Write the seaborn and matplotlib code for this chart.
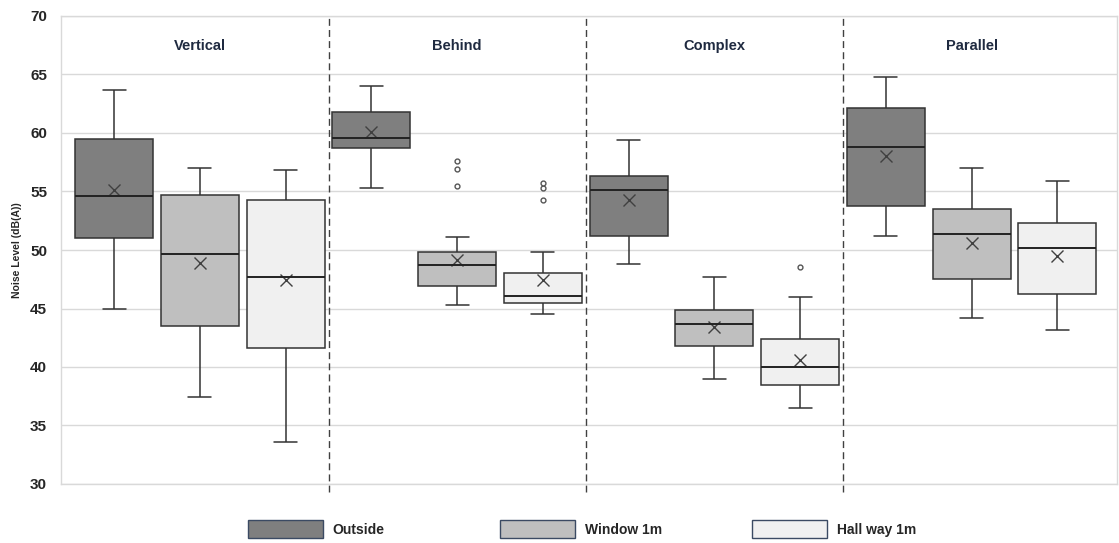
import numpy as np
import pandas as pd
import seaborn as sns
import matplotlib.pyplot as plt
from matplotlib.patches import Patch

# --------------------------
# Data
# --------------------------
locations = ["Vertical", "Behind", "Complex", "Parallel"]
positions = ["Outside", "Window 1m", "Hall way 1m"]
colors = ["#7f7f7f", "#bfbfbf", "#f0f0f0"]

# rows = location, columns = Outside / Window 1m / Hall way 1m
whisker_low = [[45.0, 37.4, 33.6], [55.3, 45.3, 44.5], [48.8, 39.0, 36.5], [51.2, 44.2, 43.2]]
q1 = [[51.0, 43.5, 41.6], [58.7, 46.9, 45.5], [51.2, 41.8, 38.5], [53.8, 47.5, 46.2]]
median = [[54.6, 49.7, 47.7], [59.6, 48.75, 46.1], [55.1, 43.7, 40.0], [58.8, 51.4, 50.2]]
q3 = [[59.5, 54.7, 54.3], [61.8, 49.8, 48.0], [56.3, 44.9, 42.4], [62.1, 53.5, 52.3]]
whisker_high = [[63.7, 57.0, 56.8], [64.0, 51.1, 49.8], [59.4, 47.7, 46.0], [64.8, 57.0, 55.9]]
mean = [[55.1, 48.9, 47.4], [60.1, 49.15, 47.4], [54.3, 43.4, 40.6], [58.0, 50.6, 49.5]]
outliers = [[[], [], []],
            [[], [55.5, 56.9, 57.6], [54.3, 55.3, 55.7]],
            [[], [], [48.55]],
            [[], [], []]]

# build a sample per box whose quartiles / whiskers give the read-off box
rows = []
mean_rows = []
for i, loc in enumerate(locations):
    for j, pos in enumerate(positions):
        vals = ([whisker_low[i][j]] + [q1[i][j]] * 20 + [median[i][j]] * 20
                + [q3[i][j]] * 20 + [whisker_high[i][j]] + outliers[i][j])
        rows += [(loc, pos, v) for v in vals]
        mean_rows.append((loc, pos, mean[i][j]))
df = pd.DataFrame(rows, columns=["location", "position", "level"])
df_mean = pd.DataFrame(mean_rows, columns=["location", "position", "level"])

# ==========================
# Plot
# ==========================
sns.set_style("whitegrid")
plt.rcParams["font.family"] = ["Liberation Sans", "DejaVu Sans"]

fig = plt.figure(figsize=(11.19, 5.43), dpi=100)
ax = fig.add_axes([61 / 1119, 1 - 484 / 543, (1117 - 61) / 1119, (484 - 16) / 543])

sns.boxplot(data=df, x="location", y="level", hue="position",
            order=locations, hue_order=positions, palette=colors, saturation=1,
            width=1.0, gap=0.09, linecolor="#333333", linewidth=1.1,
            fliersize=3.5, capwidths=0.09,
            flierprops=dict(marker="o", markerfacecolor="white",
                            markeredgecolor="#555555", markeredgewidth=1),
            medianprops=dict(color="#222222", linewidth=1.4),
            legend=False, ax=ax)

sns.pointplot(data=df_mean, x="location", y="level", hue="position",
              order=locations, hue_order=positions, palette=["#404040"] * 3,
              dodge=2 / 3, marker="x", linestyle="none", markersize=9,
              markeredgewidth=1, errorbar=None, legend=False, ax=ax)

ax.set_xlim(-0.54, 3.565)
ax.set_ylim(30, 70)
ax.set_yticks(np.arange(30, 71, 5))
ax.set_xlabel("")
ax.set_xticks([])
ax.set_ylabel("Noise Level (dB(A))", fontsize=7.5, fontweight="bold", labelpad=6)
ax.tick_params(axis="y", length=0, pad=10, labelsize=11)
for lab in ax.get_yticklabels():
    lab.set_fontweight("bold")
ax.grid(axis="y", color="#d9d9d9", linewidth=1)
ax.grid(axis="x", visible=False)
for sp in ax.spines.values():
    sp.set_color("#d9d9d9")
    sp.set_linewidth(1)

for b in [0.5, 1.5, 2.5]:
    ax.axvline(b, ymin=-0.018, ymax=1, color="#404040", linestyle=(0, (5, 3)),
               linewidth=1, clip_on=False)

for i, loc in enumerate(locations):
    ax.text(i, 67.4, loc, ha="center", va="center", fontsize=10.5,
            fontweight="bold", color="#1f2a40")

# legend entries sit on an even grid, like the original
legend_x = [248, 500, 752]
for c, pos, lx in zip(colors, positions, legend_x):
    h = Patch(facecolor=c, edgecolor="#3b4a63", linewidth=1)
    fig.legend([h], [pos], loc="center left", bbox_to_anchor=(lx / 1119, 1 - 529 / 543),
               frameon=False, handlelength=5.4, handleheight=1.6,
               handletextpad=0.7, borderpad=0, borderaxespad=0,
               prop={"weight": "bold", "size": 10})

fig.savefig("out.png", dpi=100)
